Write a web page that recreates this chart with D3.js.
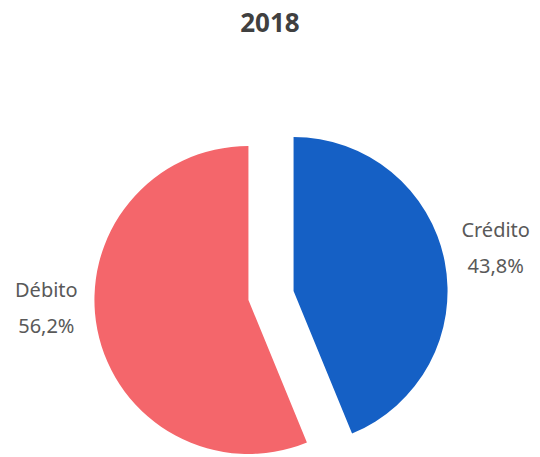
<!DOCTYPE html>
<html><head><meta charset="utf-8">
<script src="https://cdn.jsdelivr.net/npm/d3@7"></script>
<style>body{margin:0;background:#fff}svg{display:block}</style>
</head><body>
<svg id="c" width="540" height="457"></svg>
<script>
const categories = ["Crédito", "Débito"];
const values = [43.8, 56.2];
const valueLabels = ["43,8%", "56,2%"];
const colors = ["#1560C5", "#F4666B"];
const title = "2018";

const svg = d3.select("#c");
const W = 540, H = 457;
const cx = 271, cy = 295.5, r = 154, explode = 23;
const labelR = 229;
const labelDy = [-3, -32];

svg.append("text").attr("x", 270).attr("y", 32).attr("text-anchor", "middle")
  .attr("font-family", "Noto Sans, sans-serif").attr("font-weight", "bold")
  .attr("font-size", 26).attr("fill", "#404040").text(title);

const pie = d3.pie().sort(null).value(d => d)(values);
const arc = d3.arc().innerRadius(0).outerRadius(r);
const g = svg.append("g").attr("transform", `translate(${cx},${cy})`);

pie.forEach((p, i) => {
  const mid = (p.startAngle + p.endAngle) / 2;
  const dx = Math.sin(mid), dy = -Math.cos(mid);
  g.append("path").attr("d", arc(p)).attr("fill", colors[i])
    .attr("transform", `translate(${dx * explode},${dy * explode})`);
  const lx = dx * labelR, ly = dy * labelR + labelDy[i];
  const t = g.append("text").attr("text-anchor", "middle")
    .attr("font-family", "Noto Sans, sans-serif").attr("font-size", 20)
    .attr("fill", "#595959");
  t.append("tspan").attr("x", lx).attr("y", ly - 11).text(categories[i]);
  t.append("tspan").attr("x", lx).attr("y", ly + 25).text(valueLabels[i]);
});
</script>
</body></html>
